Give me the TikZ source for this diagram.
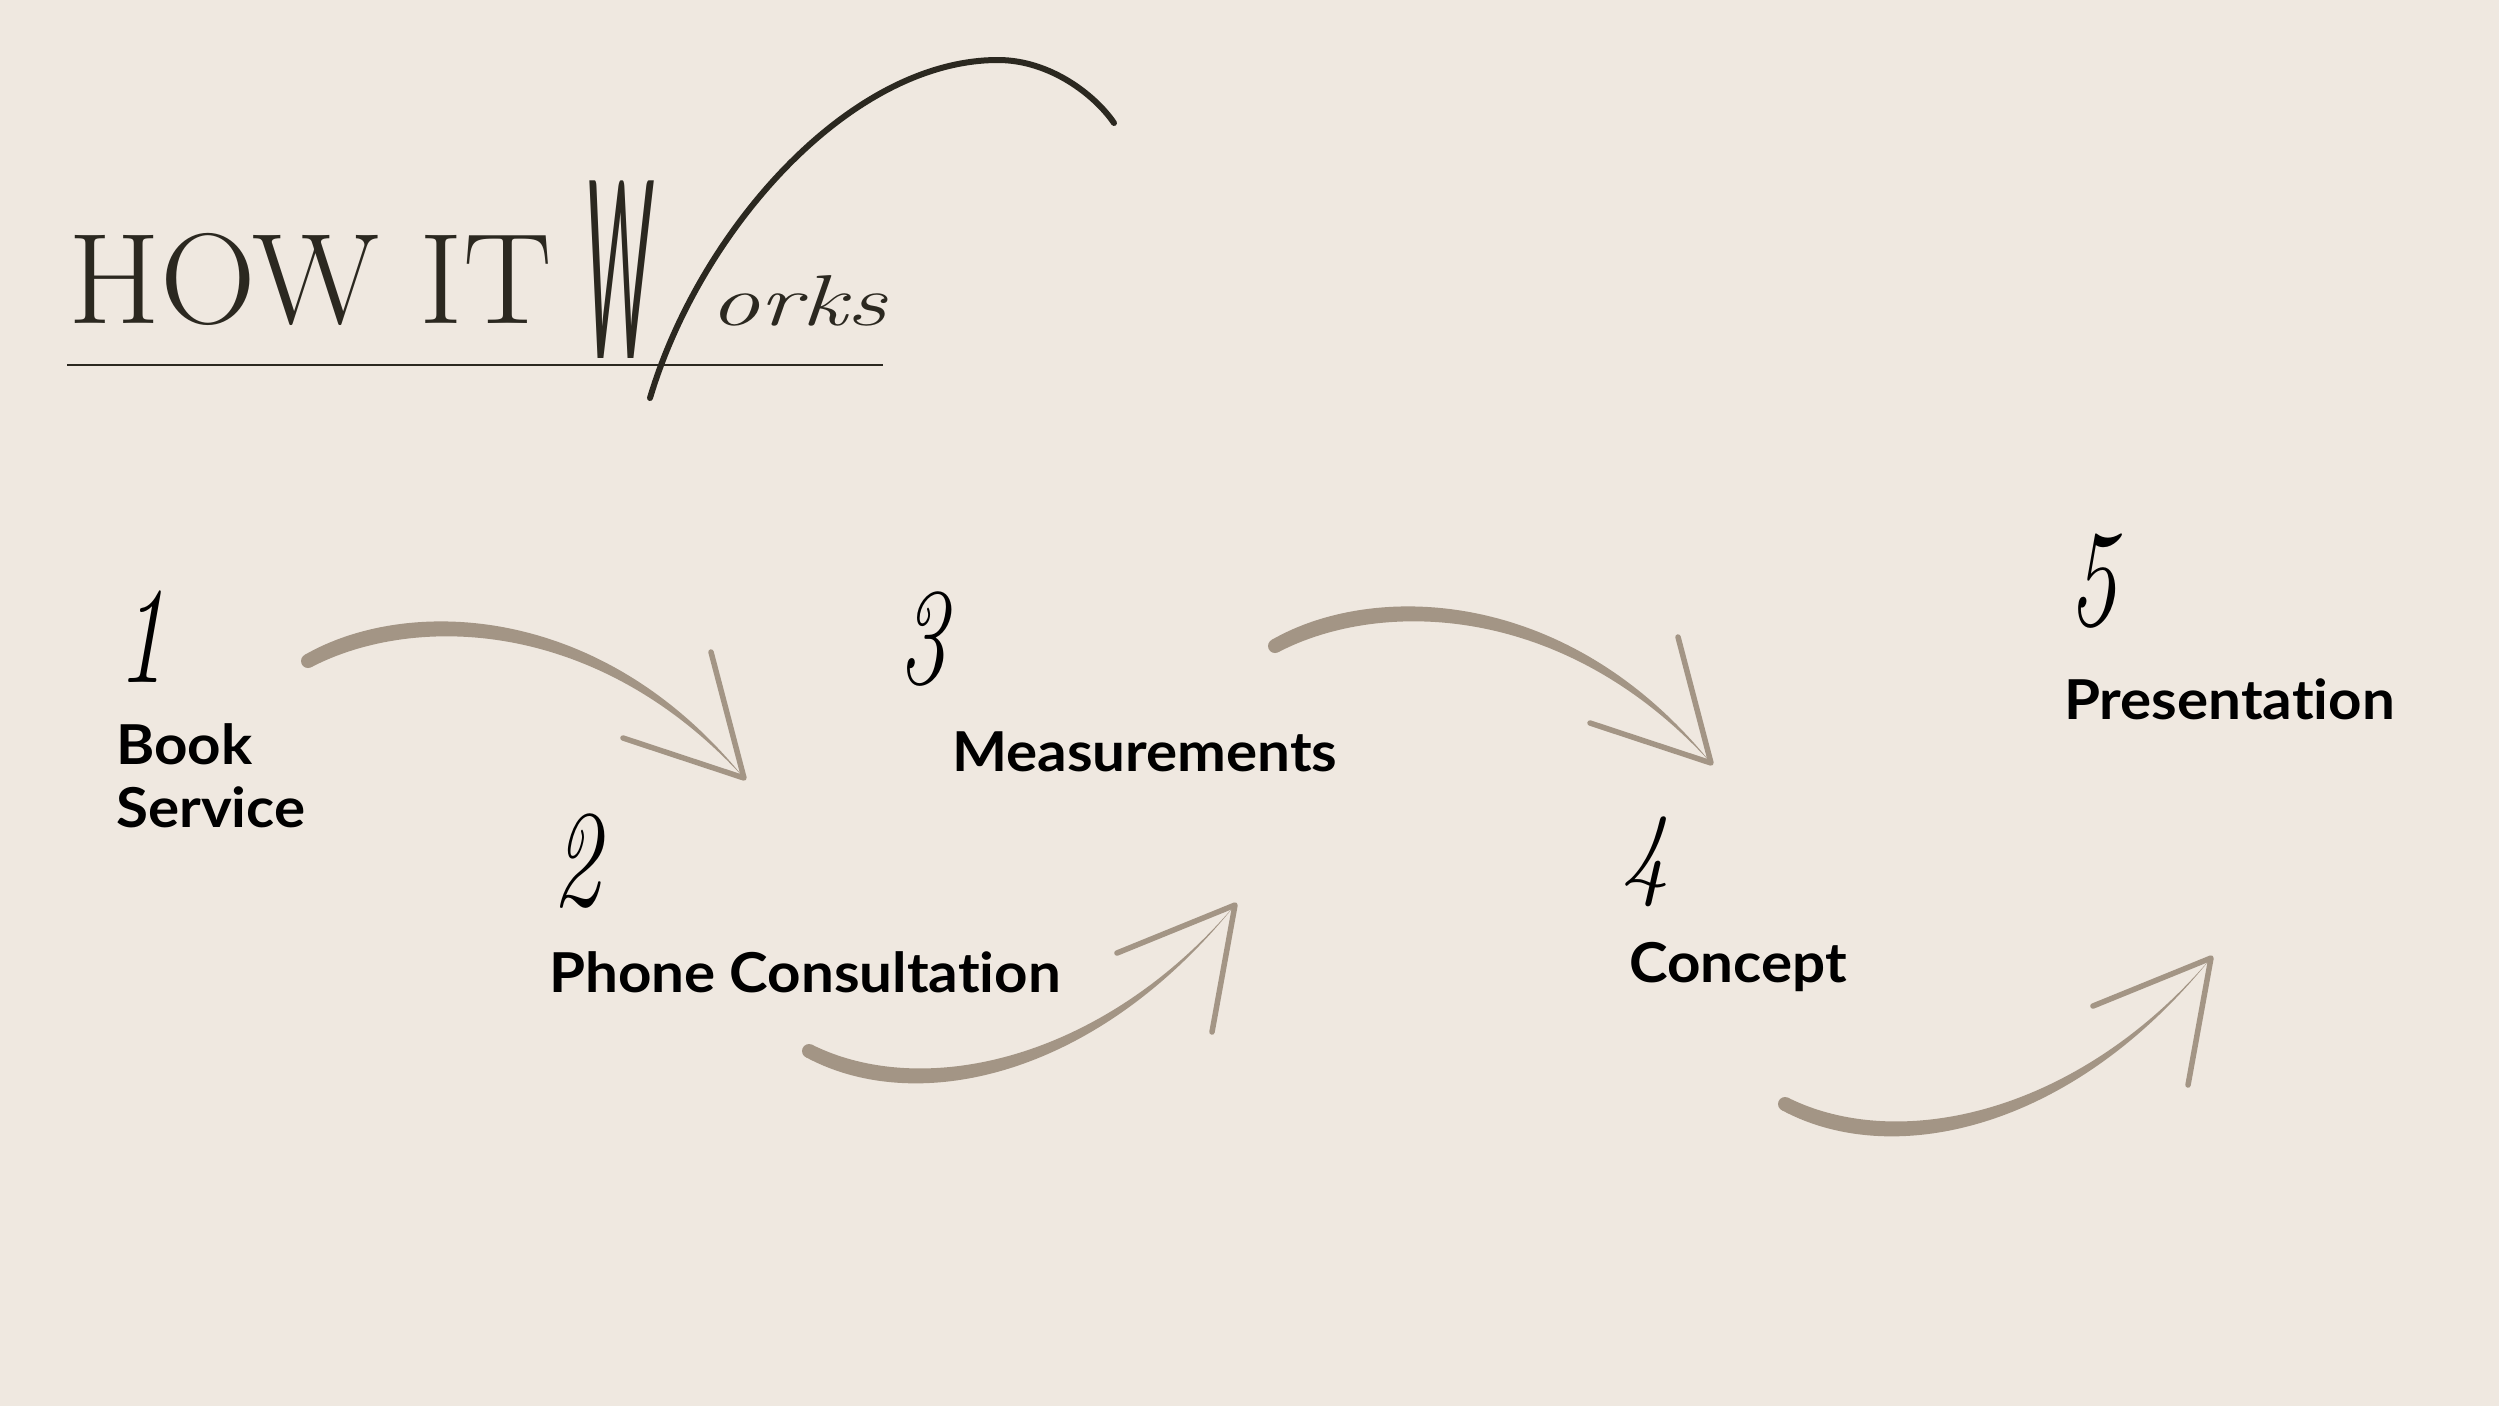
\documentclass[tikz,border=0pt]{standalone}
\usepackage{fontspec}
\newfontfamily\labelfont{Lato}[Ligatures=NoCommon]
\newfontfamily\wfont{Lato}
\definecolor{bg}{HTML}{EFE8E0}
\definecolor{arrowc}{HTML}{A39585}
\definecolor{titlec}{HTML}{2B2820}
\tikzset{
  lbl/.style={anchor=base west, inner sep=0pt, text=black, xscale=1.06,
    font=\labelfont\bfseries\fontsize{55}{62}\selectfont},
  digit/.style={anchor=base, inner sep=0pt, text=black, xscale=0.7,
    font=\itshape\fontsize{138}{138}\selectfont},
  ahead/.style={draw=arrowc, line width=5.5pt, line cap=round, line join=round},
  abody/.style={fill=arrowc, draw=none},
  arrowdown/.pic={
    \fill[abody] (-3.4,-6.1) .. controls (98.6,-65) and (294,-59) .. (436,117)
      .. controls (289,-44) and (105.4,-47) .. (3.4,6.1) -- cycle;
    \fill[abody] (0,0) circle (7);
    \draw[ahead] (403,-9) -- (436,117) -- (315,77);
  },
  arrowup/.pic={
    \fill[abody] (2.8,-6.4) .. controls (113.8,49) and (293,10) .. (426,-146)
      .. controls (288,26) and (108.2,66) .. (-2.8,6.4) -- cycle;
    \fill[abody] (0,0) circle (7);
    \draw[ahead] (308,-98) -- (426,-146) -- (403,-19);
  }
}
\begin{document}
\begin{tikzpicture}[x=1pt,y=-1pt]
\fill[bg] (0,0) rectangle (2499,1406);
\useasboundingbox (0,0) rectangle (2499,1406);

% title
\node[anchor=base west, inner sep=0pt, text=titlec, xscale=1.03,
  font=\fontsize{129}{129}\selectfont] (how) at (68,323) {HOW IT};
\node[anchor=base west, inner sep=0pt, text=titlec] (works) at (585,358)
  {\scalebox{0.28}[1]{\wfont\itshape\fontsize{248}{248}\selectfont W}\kern58pt\raisebox{33pt}{\scalebox{1.4}[1]{\itshape\fontsize{72}{72}\selectfont orks}}};
\draw[titlec, line width=6pt, line cap=round]
  (650,398) .. controls (700,230) and (850,60) .. (998,60)
  .. controls (1050,60) and (1095,95) .. (1114,123);
\coordinate (ulA) at (67,365);
\coordinate (ulB) at (883,365);
\draw[titlec, line width=2pt] (ulA) -- (ulB);

% steps
\node[digit] (n1) at (142,682) {1};
\node[lbl] (l1a) at (116,764) {Book};
\node[lbl] (l1b) at (116,827) {Service};

\node[digit] (n2) at (577,905) {2};
\node[lbl] (l2) at (549,992) {Phone Consultation};

\node[digit] (n3) at (923,683) {3};
\node[lbl] (l3) at (952,771) {Measurements};

\node[digit, yscale=0.76] (n4) at (1646,886) {4};
\node[lbl] (l4) at (1629,982) {Concept};

\node[digit] (n5) at (2093,625) {5};
\node[lbl] (l5) at (2064,719) {Presentation};

% arrows
\coordinate (a1) at (308,661);
\coordinate (a2) at (809,1051);
\coordinate (a3) at (1275,646);
\coordinate (a4) at (1785,1104);
\pic at (a1) {arrowdown};
\pic at (a2) {arrowup};
\pic at (a3) {arrowdown};
\pic at (a4) {arrowup};
\end{tikzpicture}
\end{document}
